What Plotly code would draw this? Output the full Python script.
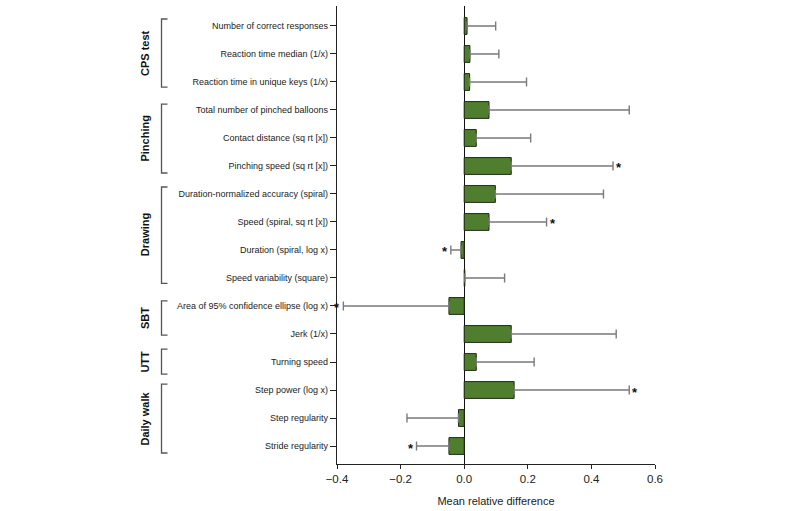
import plotly.graph_objects as go

labels = [
    "Number of correct responses",
    "Reaction time median (1/x)",
    "Reaction time in unique keys (1/x)",
    "Total number of pinched balloons",
    "Contact distance (sq rt [x])",
    "Pinching speed (sq rt [x])",
    "Duration-normalized accuracy (spiral)",
    "Speed (spiral, sq rt [x])",
    "Duration (spiral, log x)",
    "Speed variability (square)",
    "Area of 95% confidence ellipse (log x)",
    "Jerk (1/x)",
    "Turning speed",
    "Step power (log x)",
    "Step regularity",
    "Stride regularity",
]
means = [0.009, 0.018, 0.017, 0.078, 0.038, 0.148, 0.098, 0.078, -0.010, 0.002,
         -0.048, 0.148, 0.038, 0.157, -0.018, -0.048]
ci_ends = [0.099, 0.109, 0.196, 0.519, 0.209, 0.468, 0.438, 0.259, -0.042, 0.127,
           -0.380, 0.478, 0.220, 0.519, -0.180, -0.150]
significant = [False, False, False, False, False, True, False, True, True, False,
               True, False, False, True, False, True]

groups = ["CPS test", "Pinching", "Drawing", "SBT", "UTT", "Daily walk"]
group_top = [-0.25, 2.79, 5.75, 9.82, 11.54, 12.79]
group_bottom = [2.18, 5.25, 9.19, 11.04, 12.43, 15.25]

rows = list(range(len(labels)))
Y_TOP, Y_BOTTOM = -0.714, 15.643

plus = [max(e - m, 0) if m >= 0 else 0 for m, e in zip(means, ci_ends)]
minus = [0 if m >= 0 else max(m - e, 0) for m, e in zip(means, ci_ends)]

fig = go.Figure()
fig.add_trace(go.Bar(
    x=means, y=rows, orientation="h", width=0.6,
    marker=dict(color="#4F7F2E", line=dict(color="#1E2A14", width=1)),
    error_x=dict(type="data", symmetric=False, array=plus, arrayminus=minus,
                 color="#7A7A7A", thickness=1.4, width=4.5),
    showlegend=False, hoverinfo="skip",
))

# significance stars
for r, m, e, s in zip(rows, means, ci_ends, significant):
    if s:
        fig.add_annotation(x=e, y=r, xref="x", yref="y", text="<b>*</b>",
                           showarrow=False,
                           xanchor="left" if m >= 0 else "right",
                           xshift=1 if m >= 0 else -1, yshift=-2,
                           font=dict(size=13, color="#111111",
                                     family="Arial, Liberation Sans"))

L, R, T, B = 337, 145, 6, 47
W, H = 800, 511
pw = W - L - R


def px_x(px):
    return (px - L) / pw


def paper_y(row):
    return (Y_BOTTOM - row) / (Y_BOTTOM - Y_TOP)


bx, tab = px_x(161.5), px_x(167.5)
for g, t, b in zip(groups, group_top, group_bottom):
    yt, yb = paper_y(t), paper_y(b)
    fig.add_shape(type="path", xref="paper", yref="paper",
                  path=f"M {tab} {yt} L {bx} {yt} L {bx} {yb} L {tab} {yb}",
                  line=dict(color="#555555", width=1.3))
    fig.add_annotation(x=px_x(145), y=(yt + yb) / 2, xref="paper", yref="paper",
                       text=f"<b>{g}</b>", textangle=-90, showarrow=False,
                       xanchor="center", yanchor="middle",
                       font=dict(size=11, color="#111111",
                                 family="Arial, Liberation Sans"))

fig.update_layout(
    width=W, height=H,
    margin=dict(l=L, r=R, t=T, b=B),
    paper_bgcolor="white", plot_bgcolor="white",
    font=dict(family="Arial, Liberation Sans", color="#222222"),
    bargap=0.4,
)
fig.update_xaxes(
    range=[-0.4, 0.6], dtick=0.2, tick0=-0.4, tickformat=".1f",
    showgrid=False, zeroline=True, zerolinecolor="#111111", zerolinewidth=1.2,
    showline=True, linecolor="#222222", linewidth=1.2,
    ticks="outside", ticklen=4, tickcolor="#222222", tickwidth=1.2,
    tickfont=dict(size=11.5, color="#222222"),
    title=dict(text="Mean relative difference", font=dict(size=11, color="#222222"),
               standoff=13),
)
fig.update_yaxes(
    range=[Y_BOTTOM, Y_TOP], tickmode="array", tickvals=rows, ticktext=labels,
    showgrid=False, zeroline=False,
    showline=True, linecolor="#222222", linewidth=1.2,
    ticks="outside", ticklen=6, tickcolor="#222222", tickwidth=1.2,
    tickfont=dict(size=9, color="#222222"),
)

fig.write_html("out.html",
               config={"displayModeBar": False},
               post_script="document.body.style.margin='0';"
                           "document.body.style.overflow='hidden';")
